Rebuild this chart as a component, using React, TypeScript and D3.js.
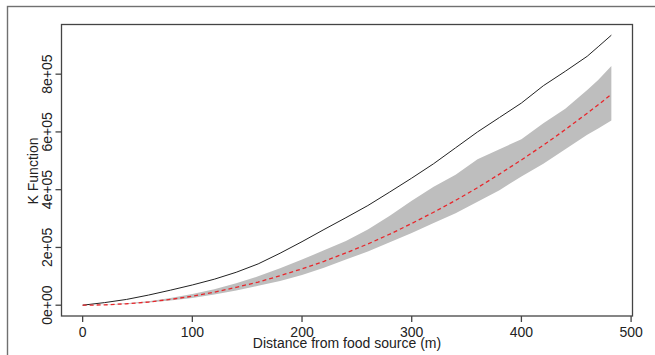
import React from "react";
import * as d3 from "d3";

const distances = [0, 20, 40, 60, 80, 100, 120, 140, 160, 180, 200, 220, 240, 260, 280, 300, 320, 340, 360, 380, 400, 420, 440, 460, 470, 482];
// observed K (black line)
const observedK = [0, 9000, 20000, 35000, 52000, 70000, 90000, 114000, 143000, 180000, 220000, 262000, 303000, 345000, 392000, 440000, 490000, 545000, 600000, 650000, 700000, 760000, 810000, 862000, 895000, 935000];
// theoretical / mean K (red dashed line)
const meanK = [0, 1000, 5000, 11000, 20000, 31000, 45000, 62000, 80000, 102000, 126000, 152000, 181000, 212000, 246000, 283000, 322000, 363000, 407000, 454000, 503000, 554000, 608000, 665000, 694000, 730000];
// simulation envelope (grey band)
const envLow = [0, 800, 3800, 9000, 16000, 25000, 37000, 51000, 67000, 84000, 105000, 130000, 158000, 186000, 218000, 250000, 285000, 318000, 358000, 398000, 446000, 490000, 540000, 590000, 612000, 640000];
const envHigh = [0, 1800, 6500, 14000, 25000, 39000, 55000, 76000, 100000, 128000, 158000, 190000, 222000, 262000, 310000, 362000, 410000, 452000, 505000, 540000, 575000, 630000, 680000, 745000, 780000, 828000];

const xTicks = [0, 100, 200, 300, 400, 500];
const yTicks = [0, 200000, 400000, 600000, 800000];
const yTickLabels = ["0e+00", "2e+05", "4e+05", "6e+05", "8e+05"];

const box = { left: 61.5, right: 632.5, top: 24.5, bottom: 316 };
const font = "'Liberation Sans', Arial, sans-serif";

export default function App() {
  const x = d3.scaleLinear().domain([-19.28, 501.28]).range([box.left, box.right]);
  const y = d3.scaleLinear().domain([-37400, 972000]).range([box.bottom, box.top]);

  const idx = distances.map((_, i) => i);

  const band = d3
    .area<number>()
    .x((i) => x(distances[i]))
    .y0((i) => y(envLow[i]))
    .y1((i) => y(envHigh[i]));

  const obsLine = d3
    .line<number>()
    .x((i) => x(distances[i]))
    .y((i) => y(observedK[i]));

  const meanLine = d3
    .line<number>()
    .x((i) => x(distances[i]))
    .y((i) => y(meanK[i]));

  return (
    <svg
      width={655}
      height={355}
      style={{ position: "absolute", left: 0, top: 0, background: "#fff" }}
      fontFamily={font}
    >
      {/* outer frame */}
      <rect x={7.5} y={6.5} width={700} height={400} fill="none" stroke="#707070" strokeWidth={1.4} />

      <path d={band(idx) || ""} fill="#bebebe" stroke="none" />
      <path d={obsLine(idx) || ""} fill="none" stroke="#222" strokeWidth={1} />
      <path d={meanLine(idx) || ""} fill="none" stroke="#e8262b" strokeWidth={1.3} strokeDasharray="4,3" />

      {/* plot box */}
      <rect
        x={box.left}
        y={box.top}
        width={box.right - box.left}
        height={box.bottom - box.top}
        fill="none"
        stroke="#444"
        strokeWidth={1.3}
      />

      {/* x axis */}
      {xTicks.map((t) => (
        <g key={"x" + t}>
          <line x1={x(t)} x2={x(t)} y1={box.bottom} y2={box.bottom + 6} stroke="#444" strokeWidth={1.3} />
          <text x={x(t)} y={336.5} textAnchor="middle" fontSize={14} fill="#222">
            {t}
          </text>
        </g>
      ))}
      <text x={347} y={348} textAnchor="middle" fontSize={14} fill="#222">
        Distance from food source (m)
      </text>

      {/* y axis */}
      {yTicks.map((t, i) => (
        <g key={"y" + t}>
          <line x1={box.left - 6} x2={box.left} y1={y(t)} y2={y(t)} stroke="#444" strokeWidth={1.3} />
          <text
            transform={`translate(51.5,${y(t)}) rotate(-90)`}
            textAnchor="middle"
            fontSize={14}
            fill="#222"
          >
            {yTickLabels[i]}
          </text>
        </g>
      ))}
      <text transform="translate(37.5,171) rotate(-90)" textAnchor="middle" fontSize={14} fill="#222">
        K Function
      </text>
    </svg>
  );
}
